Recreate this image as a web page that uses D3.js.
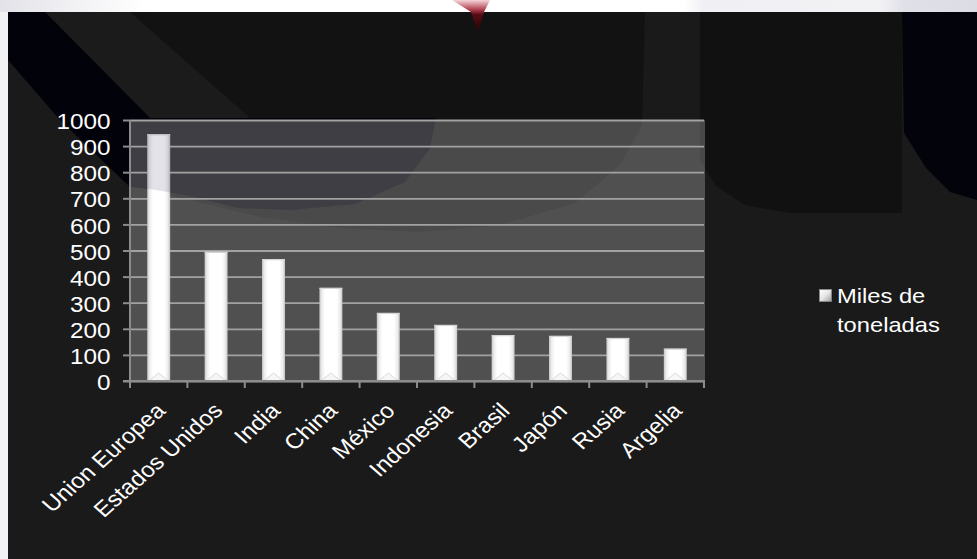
<!DOCTYPE html>
<html>
<head>
<meta charset="utf-8">
<script src="https://cdn.jsdelivr.net/npm/d3@7"></script>
<style>
  html, body { margin: 0; padding: 0; background: #1a1a1a; }
  svg { display: block; }
  text { font-family: "Liberation Sans", Arial, sans-serif; fill: #ffffff; }
</style>
</head>
<body>
<svg id="chart" width="977" height="559"></svg>
<script>
// ---- data ----
const categories = ["Union Europea", "Estados Unidos", "India", "China", "México",
                    "Indonesia", "Brasil", "Japón", "Rusia", "Argelia"];
const values = [946, 495, 467, 357, 261, 215, 176, 173, 165, 124];
const seriesName = ["Miles de", "toneladas"];
const yTicks = [0, 100, 200, 300, 400, 500, 600, 700, 800, 900, 1000];

const W = 977, H = 559;
const plot = { left: 130, top: 120, right: 704, bottom: 381 };
const SX = 1.13; // horizontal stretch of the text

const svg = d3.select("#chart");
const defs = svg.append("defs");

// ---- gradients ----
const topGrad = defs.append("linearGradient").attr("id", "topGrad");
[[0, "#e2e2e8"], [0.08, "#f2f2f5"], [0.15, "#ffffff"], [0.7, "#ffffff"], [0.72, "#f0f0f4"],
 [0.9, "#f2f2f5"], [0.925, "#e0e0e8"], [1, "#dcdce4"]]
  .forEach(([o, c]) => topGrad.append("stop").attr("offset", o).attr("stop-color", c));

const redGrad = defs.append("linearGradient").attr("id", "redGrad")
  .attr("x1", 0).attr("y1", 0).attr("x2", 0).attr("y2", 1);
[[0, "#f6d6da"], [0.3, "#b04050"], [0.45, "#5a0c14"], [1, "#1e0606"]]
  .forEach(([o, c]) => redGrad.append("stop").attr("offset", o).attr("stop-color", c));

const barGrad = defs.append("linearGradient").attr("id", "barGrad");
[[0, "#c4c4c4"], [0.1, "#ececec"], [0.25, "#ffffff"], [0.75, "#ffffff"], [0.9, "#ececec"], [1, "#c4c4c4"]]
  .forEach(([o, c]) => barGrad.append("stop").attr("offset", o).attr("stop-color", c));

const legGrad = defs.append("linearGradient").attr("id", "legGrad")
  .attr("x1", 0).attr("y1", 0).attr("x2", 1).attr("y2", 1);
[[0, "#ffffff"], [0.5, "#e6e6e6"], [1, "#9a9a9a"]]
  .forEach(([o, c]) => legGrad.append("stop").attr("offset", o).attr("stop-color", c));

// ---- background ----
const line = d3.line().curve(d3.curveLinear);

svg.append("rect").attr("width", W).attr("height", H).attr("fill", "#1a1a1a");
svg.append("rect").attr("x", 0).attr("y", 0).attr("width", 8).attr("height", H).attr("fill", "#f2f2f4");

const shapeM = [[45,12],[645,12],[642,125],[620,165],[575,203],[500,225],[420,232],[340,228],[260,217],[190,200],[140,188],[150,118]];
const shapeBand = [[45,12],[130,12],[250,118],[150,118]];
const shapeD = [[8,12],[45,12],[150,118],[436,118],[430,148],[405,182],[355,204],[290,210],[238,208],[190,196],[150,189],[130,187],[60,120],[8,60]];
const shapeR1 = [[700,12],[902,12],[902,213],[790,213],[745,205],[716,186],[700,160]];
const shapeR2 = [[902,12],[977,12],[977,200],[950,192],[926,168],[904,133]];

svg.append("path").attr("d", line(shapeM) + "Z").attr("fill", "#121213");
svg.append("path").attr("d", line(shapeBand) + "Z").attr("fill", "#1b1b1b");
svg.append("path").attr("d", line(shapeD) + "Z").attr("fill", "#02020a");
svg.append("path").attr("d", line(shapeR1) + "Z").attr("fill", "#111111");
svg.append("path").attr("d", line(shapeR2) + "Z").attr("fill", "#03040b");

svg.append("rect").attr("x", 0).attr("y", 0).attr("width", W).attr("height", 12).attr("fill", "url(#topGrad)");
svg.append("path").attr("d", line([[452,0],[490,0],[484,12],[478,32],[471,12]]) + "Z").attr("fill", "url(#redGrad)");

// ---- scales ----
const x = d3.scaleBand().domain(categories).range([plot.left, plot.right])
  .paddingInner(0.6).paddingOuter(0.3);
const y = d3.scaleLinear().domain([0, 1000]).range([plot.bottom, plot.top]);

// plot area (translucent over the background)
svg.append("rect")
  .attr("x", plot.left).attr("y", plot.top)
  .attr("width", plot.right - plot.left + 1).attr("height", plot.bottom - plot.top)
  .attr("fill", "#ffffff").attr("fill-opacity", 0.24);

// gridlines
svg.append("g")
  .attr("transform", `translate(${plot.left},0)`)
  .call(d3.axisLeft(y).tickValues(yTicks).tickSize(-(plot.right - plot.left)).tickFormat(""))
  .call(g => g.select(".domain").remove())
  .call(g => g.selectAll("line").attr("stroke", "#a2a2a2").attr("stroke-width", 1.8));

// bars
const bars = svg.append("g");
categories.forEach((c, i) => {
  const x0 = x(c), bw = x.bandwidth(), yt = y(values[i]), yb = y(0);
  bars.append("rect").attr("x", x0).attr("y", yt).attr("width", bw).attr("height", yb - yt)
    .attr("fill", "url(#barGrad)");
  bars.append("rect").attr("x", x0).attr("y", yt).attr("width", bw).attr("height", 1.2)
    .attr("fill", "#d4d4d4");
  bars.append("path")
    .attr("d", line([[x0 + 1.5, yb], [x0 + bw / 2, yb - 8], [x0 + bw - 1.5, yb]]))
    .attr("fill", "#f6f6f6").attr("stroke", "#d0d0d0").attr("stroke-width", 0.8);
});

// tint of the background shape over the bars
const clip = defs.append("clipPath").attr("id", "barClip");
categories.forEach((c, i) => {
  clip.append("rect").attr("x", x(c)).attr("y", y(values[i]))
    .attr("width", x.bandwidth()).attr("height", y(0) - y(values[i]));
});
svg.append("path").attr("d", line(shapeD) + "Z").attr("fill", "#1e1e50")
  .attr("fill-opacity", 0.13).attr("clip-path", "url(#barClip)");

// y axis
const yAxis = svg.append("g")
  .attr("transform", `translate(${plot.left},0)`)
  .call(d3.axisLeft(y).tickValues(yTicks).tickSize(7).tickPadding(0).tickFormat(d3.format("d")));
yAxis.select(".domain").attr("stroke", "#8c8c8c").attr("stroke-width", 2).attr("d", `M0,${plot.top}V${plot.bottom}`);
yAxis.selectAll(".tick line").attr("stroke", "#8c8c8c").attr("stroke-width", 2);
yAxis.selectAll(".tick text")
  .attr("x", null).attr("dy", "0.4em")
  .attr("transform", `translate(-19.5,0) scale(${SX},1)`)
  .style("font-size", "21.5px").attr("fill", "#ffffff")
  .style("font-family", '"Liberation Sans", Arial, sans-serif');

// x axis (ticks at category boundaries)
const xg = svg.append("g");
xg.append("line").attr("x1", plot.left - 7).attr("x2", plot.right + 1)
  .attr("y1", plot.bottom).attr("y2", plot.bottom)
  .attr("stroke", "#8c8c8c").attr("stroke-width", 2);
const bounds = categories.map(c => x(c) - x.step() * x.paddingInner() / 2);
bounds.push(plot.right);
xg.selectAll("line.tk").data(bounds).enter().append("line").attr("class", "tk")
  .attr("x1", d => d).attr("x2", d => d)
  .attr("y1", plot.bottom).attr("y2", plot.bottom + 7)
  .attr("stroke", "#8c8c8c").attr("stroke-width", 2);
xg.selectAll("text").data(categories).enter().append("text")
  .attr("transform", d => `translate(${x(d) + x.bandwidth() / 2 + 8},${plot.bottom + 31}) scale(${SX},1) rotate(-45)`)
  .attr("text-anchor", "end")
  .style("font-size", "21.5px")
  .text(d => d);

// legend
const leg = svg.append("g");
leg.append("rect").attr("x", 819.5).attr("y", 289.5).attr("width", 12).attr("height", 12)
  .attr("fill", "url(#legGrad)").attr("stroke", "#8a8a8a").attr("stroke-width", 0.8);
seriesName.forEach((t, i) => {
  leg.append("text")
    .attr("transform", `translate(837,${303 + i * 28.7}) scale(${SX},1)`)
    .style("font-size", "21px")
    .text(t);
});
</script>
</body>
</html>
